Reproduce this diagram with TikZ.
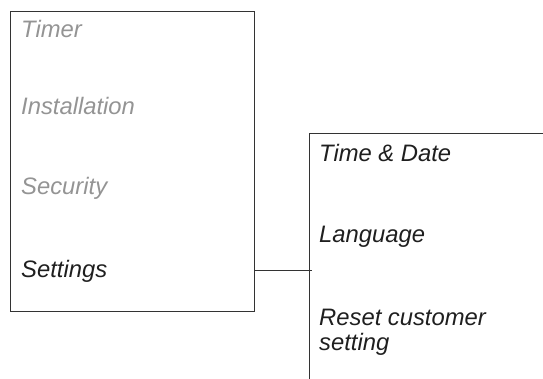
\documentclass[tikz,border=0pt]{standalone}
\usepackage{fontspec}
\setmainfont{Liberation Sans}
\begin{document}
\begin{tikzpicture}[x=1pt,y=-1pt,
  frame/.style={draw=black!80,line width=1pt},
  item/.style={anchor=base west,inner sep=0pt,font=\fontsize{23.8}{25}\selectfont\itshape},
  dim/.style={item,text=black!42},
  act/.style={item,text=black!88}]
\useasboundingbox (0,0) rectangle (543,379);
\node[frame,minimum width=244pt,minimum height=300pt,inner sep=0pt,anchor=north west] (menu) at (10,11) {};
\node[dim] (timer) at (21,38) {Timer};
\node[dim] (inst) at (21,115) {Installation};
\node[dim] (sec) at (21,195) {Security};
\node[act] (set) at (21,277) {Settings};
\coordinate (ptop) at (309,134);
\coordinate (pbot) at (309,379);
\coordinate (pright) at (543,134);
\coordinate (plink) at (311.5,270);
\draw[frame] (pright) -- (ptop) -- (pbot);
\draw[frame] (menu.east |- plink) -- (plink);
\node[act] (td) at (319,162) {Time \& Date};
\node[act] (lang) at (319,243) {Language};
\node[act,align=left,anchor=north west] (reset) at (319,308.5) {Reset customer\\setting};
\end{tikzpicture}
\end{document}
